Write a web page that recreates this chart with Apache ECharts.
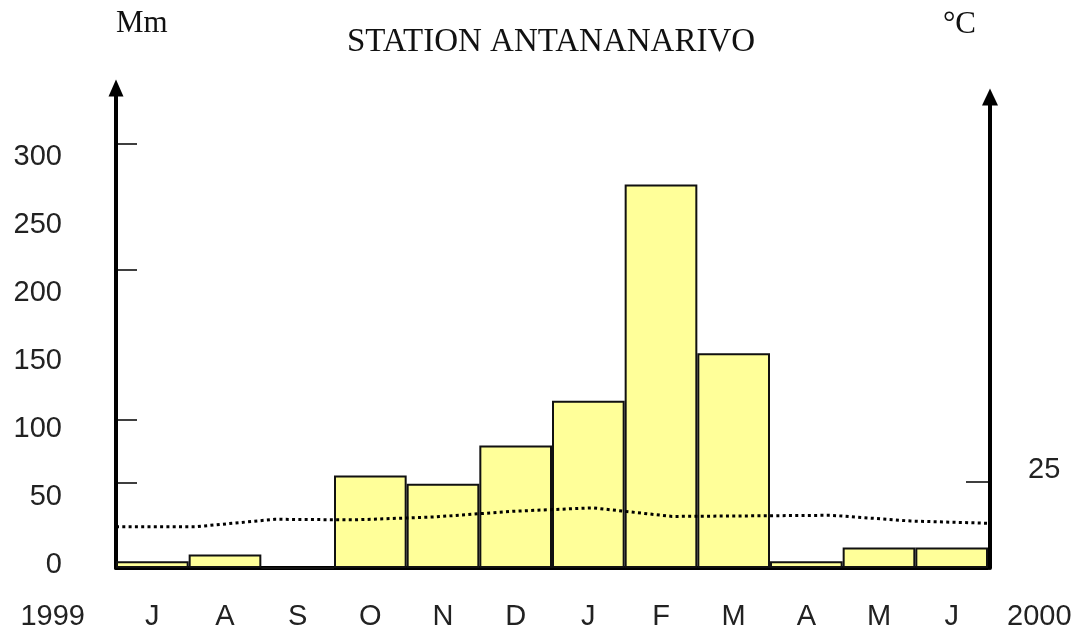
<!DOCTYPE html>
<html>
<head>
<meta charset="utf-8">
<script src="https://cdn.jsdelivr.net/npm/echarts@6/dist/echarts.min.js"></script>
<style>
  html, body { margin: 0; padding: 0; background: #fff; }
  #chart { width: 1077px; height: 634px; }
</style>
</head>
<body>
<div id="chart"></div>
<script>
// ---- data ----
const months = ['J', 'A', 'S', 'O', 'N', 'D', 'J', 'F', 'M', 'A', 'M', 'J'];
const rainfall = [5, 10, 0, 68, 62, 90, 123, 282, 158, 5, 15, 15];      // Mm
const temperature = [17.2, 17.2, 18.5, 18.4, 18.9, 19.9, 20.5, 19.0, 19.1, 19.2, 18.2, 17.8]; // °C
const leftLabelValues = [0, 50, 100, 150, 200, 250, 300];
const leftTickValues = [63, 109, 219, 312];
const rightLabelValues = [25];
const startYear = '1999';
const endYear = '2000';
const titleText = 'STATION ANTANANARIVO';

const sans = 'Liberation Sans, Arial, sans-serif';
const serif = 'Liberation Serif, Times New Roman, serif';

const chart = echarts.init(document.getElementById('chart'));
chart.setOption({
  animation: false,
  backgroundColor: '#fff',
  title: {
    text: titleText,
    left: 546,
    top: 21,
    textAlign: 'center',
    textStyle: { fontFamily: serif, fontWeight: 'normal', fontSize: 33, color: '#111' }
  },
  grid: [
    { left: 116, right: 89, top: 88, bottom: 66 },
    { left: 116, right: 87, top: 97, bottom: 66 }
  ],
  xAxis: [
    {
      type: 'category', gridIndex: 0, data: months,
      boundaryGap: true,
      axisLine: { show: true, lineStyle: { color: '#000', width: 4 } },
      axisTick: { show: false },
      axisLabel: { margin: 34, fontFamily: sans, fontSize: 29, color: '#222' },
      splitLine: { show: false },
      name: startYear, nameLocation: 'start', nameGap: 31,
      nameTextStyle: { fontFamily: sans, fontSize: 29, color: '#222', verticalAlign: 'top', padding: [34, 0, 0, 0] }
    },
    {
      type: 'category', gridIndex: 1, data: months,
      boundaryGap: false,
      axisLine: { show: false }, axisTick: { show: false }, axisLabel: { show: false },
      splitLine: { show: false },
      name: endYear, nameLocation: 'end', nameGap: 17,
      nameTextStyle: { fontFamily: sans, fontSize: 29, color: '#222', verticalAlign: 'top', padding: [34, 0, 0, 0] }
    }
  ],
  yAxis: [
    {
      type: 'value', gridIndex: 0, position: 'left', min: 0, max: 353,
      axisLine: { show: true, symbol: ['none', 'triangle'], symbolSize: [15, 17], lineStyle: { color: '#000', width: 4 } },
      axisTick: { show: true, inside: true, length: 21, customValues: leftTickValues, lineStyle: { color: '#000', width: 1.5 } },
      axisLabel: { customValues: leftLabelValues, margin: 54, fontFamily: sans, fontSize: 29, color: '#222', verticalAlign: 'bottom', lineHeight: 7 },
      splitLine: { show: false },
      name: 'Mm', nameLocation: 'end', nameGap: 49,
      nameTextStyle: { fontFamily: serif, fontSize: 31, color: '#111', align: 'left' }
    },
    {
      type: 'value', gridIndex: 1, position: 'right', min: 10, max: 92.2,
      axisLine: { show: true, symbol: ['none', 'triangle'], symbolSize: [16, 17], lineStyle: { color: '#000', width: 4 } },
      axisTick: { show: true, inside: true, length: 24, customValues: rightLabelValues, lineStyle: { color: '#000', width: 1.5 } },
      axisLabel: { customValues: rightLabelValues, margin: 38, fontFamily: sans, fontSize: 29, color: '#222', verticalAlign: 'bottom', lineHeight: 24 },
      splitLine: { show: false },
      name: '°C', nameLocation: 'end', nameGap: 57,
      nameTextStyle: { fontFamily: serif, fontSize: 31, color: '#111', align: 'right', padding: [0, 14, 0, 0] }
    }
  ],
  series: [
    {
      type: 'bar', xAxisIndex: 0, yAxisIndex: 0,
      data: rainfall,
      barCategoryGap: '0%',
      itemStyle: { color: '#ffff99', borderColor: '#111', borderWidth: 2 }
    },
    {
      type: 'line', xAxisIndex: 1, yAxisIndex: 1,
      data: temperature,
      symbol: 'none',
      lineStyle: { color: '#000', width: 3, type: [3, 3.3], cap: 'butt' }
    }
  ]
});
</script>
</body>
</html>
